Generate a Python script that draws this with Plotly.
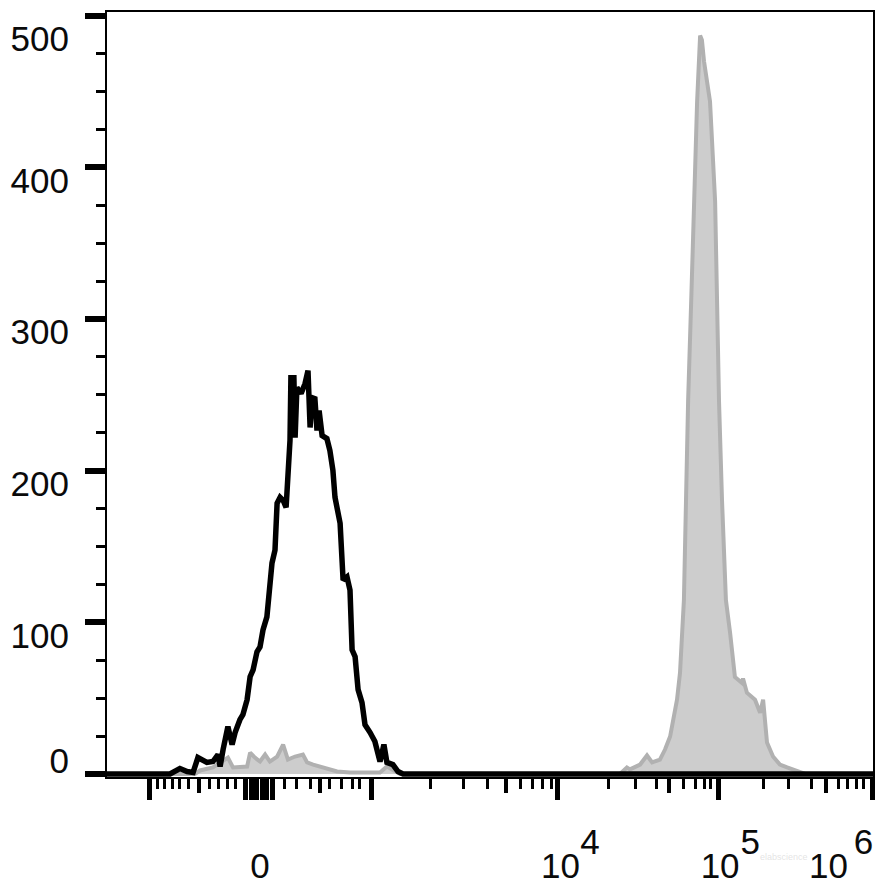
import plotly.graph_objects as go

# ---- data (x = display channel on a 256-bin biexponential scale, y = events) ----
black_ch = [0, 21, 24.3, 26.7, 28.7, 30.3, 33.3, 35.3, 37, 37.7, 38.7, 40.3, 41.7, 42.7,
            44.3, 45.3, 46.7, 47.7, 48.7, 50, 51, 52, 53.3, 53.7, 54.3, 55, 56, 56.7,
            57.7, 58.7, 59.7, 60, 60.7, 61, 61.3, 62.3, 62.7, 63.3, 64.7, 66, 67, 67.7,
            68.3, 69.3, 70, 70.7, 71.7, 73.3, 74.3, 75.3, 76, 77.7, 78.7, 80, 81, 81.7,
            82.7, 83.7, 85, 86, 87.7, 89.3, 91, 92.3, 93.3, 95.3, 97, 98.7, 255.33]
black_count = [0, 0, 3.6, 1.6, 1, 10.8, 7.6, 8.2, 12.8, 4.9, 16.1, 31.2, 19.4, 27.3,
               35.8, 39.1, 49, 64.1, 68.7, 80.6, 83.8, 95, 103.6, 112.8, 129.9, 139.1, 147.6, 178.6,
               182.4, 180.5, 175.8, 187, 200.2, 219.9, 261.3, 261.3, 221.8, 254.8, 250.9, 257.4, 266, 228.5,
               248.2, 247.5, 226.5, 239.6, 223.2, 221.2, 213.3, 200.2, 182.4, 165.3, 127.8, 129.9, 121.3, 81.9,
               77.3, 55.6, 47, 32.5, 27.3, 21.4, 8.2, 19.4, 7.6, 6.2, 1.6, 0, 0]

gray_ch = [0, 29.3, 31, 35.3, 40.3, 42, 46.7, 47.7, 49.3, 51, 52.7, 54.3, 56.7, 58.7,
           60.3, 62.7, 65.3, 66.7, 68.7, 71, 73.3, 76.7, 81, 91, 93.3, 97.7,
           171, 173.3, 174.3, 177.7, 180, 181.7, 184.3, 186, 187.7, 188.7, 190, 191,
           191.7, 192.3, 193, 193.7, 194.8, 195.7, 196.7, 197.7, 198.3, 199, 201,
           202.7, 203.3, 204, 205, 206.3, 207.7, 209.3, 211.7, 212, 213.3, 215, 216,
           217.7, 218.7, 219.3, 220, 222, 224.3, 226.7, 228.7, 231, 232.7, 255.33]
gray_count = [0, 0, 2.3, 4.3, 10.8, 4.3, 4.9, 14, 10.8, 8.2, 12.8, 8.2, 11.5, 19.4,
              9.5, 11.5, 12.8, 7.6, 6.2, 4.9, 3, 1.6, 1, 1, 4.9, 0,
              0, 4.3, 3, 6.2, 12.2, 7.6, 9.5, 16.1, 24.7, 35.8, 49, 66.7,
              93, 114.7, 180.5, 246, 316.6, 377.8, 443.5, 487, 484, 470, 443.5,
              377.8, 316.6, 246, 180.5, 114.7, 93, 64, 60, 63, 53.6, 50.3, 49,
              40.4, 49, 35.8, 20.7, 11.5, 6.2, 4.3, 3, 1.6, 0, 0]

# ---- axis ticks ----
y_major = [0, 100, 200, 300, 400, 500]
y_labels = ["0", "100", "200", "300", "400", "500"]

x_tall_ticks = [14, 46.3, 48, 49.7, 51.7, 53.3, 55, 88.3, 150, 203.7, 255.3]
x_mid_ticks = [30.7, 71, 133, 187.3, 239.7]
x_short_ticks = [16.7, 19, 21.7, 24.3, 27.3, 34.3, 37.3, 40.3, 42.7,
                 59.3, 63.3, 67.7, 74.3, 78.3, 81.7, 84.3,
                 107.7, 118.7, 126.7, 137.7, 141.7, 145, 148.3,
                 167, 176, 183, 192, 196, 199, 201,
                 218.7, 227.3, 234.7, 243.7, 246.7, 249.7, 252.3]
x_label_ticks = [51.7, 150, 203.7, 255.3]
x_label_base = ["0", "10", "10", "10"]
x_label_exp = ["4", "5", "6"]

# ---- layout geometry (page body has an 8px margin) ----
BODY = 8
W, H = 889 - BODY, 891 - BODY
ML, MR, MT, MB = 107 - BODY, 16, 10 - BODY, 114
X_RANGE = [0, 255.33]
Y_RANGE = [-2, 502.5]
px_x = (W - ML - MR) / (X_RANGE[1] - X_RANGE[0])
px_y = (H - MT - MB) / (Y_RANGE[1] - Y_RANGE[0])

y_label_shift_px = [13, -13, -13, -13, -13, -23]
y_label_pos = [v + s / px_y for v, s in zip(y_major, y_label_shift_px)]

base_shift_px = [-2, 3.5, 2, -44.5]
exp_shift_px = [33, 32, -9.5]
x_base_pos = [v + s / px_x for v, s in zip(x_label_ticks, base_shift_px)]
x_exp_pos = [v + s / px_x for v, s in zip(x_label_ticks[1:], exp_shift_px)]

FONT = "Liberation Sans, Arial, sans-serif"
TXT = "#0a0a0a"

fig = go.Figure()
fig.add_trace(go.Scatter(x=gray_ch, y=gray_count, mode="lines", fill="tozeroy",
                         fillcolor="#cdcdcd", line=dict(color="#b1b1b1", width=4),
                         xaxis="x", yaxis="y", hoverinfo="skip", showlegend=False))
fig.add_trace(go.Scatter(x=black_ch, y=black_count, mode="lines",
                         line=dict(color="#000000", width=5.5),
                         xaxis="x", yaxis="y", hoverinfo="skip", showlegend=False))
# empty traces so that the overlay tick / label axes get drawn
for xa, ya in [("x2", "y"), ("x3", "y"), ("x4", "y"), ("x", "y2")]:
    fig.add_trace(go.Scatter(x=[None], y=[None], mode="lines", xaxis=xa, yaxis=ya,
                             hoverinfo="skip", showlegend=False))

common_x = dict(range=X_RANGE, showgrid=False, zeroline=False, fixedrange=True)
fig.update_layout(
    width=W, height=H, autosize=False,
    margin=dict(l=ML, r=MR, t=MT, b=MB, pad=0),
    paper_bgcolor="white", plot_bgcolor="rgba(0,0,0,0)",
    font=dict(family=FONT, color=TXT),
    xaxis=dict(**common_x, showline=True, linecolor="black", linewidth=1.5, mirror=True,
               ticks="outside", tickmode="array", tickvals=x_tall_ticks,
               ticklen=21, tickwidth=5, tickcolor="black", showticklabels=False,
               minor=dict(tickmode="array", tickvals=x_short_ticks, ticks="outside",
                          ticklen=10, tickwidth=3, tickcolor="black", showgrid=False)),
    xaxis2=dict(**common_x, overlaying="x", anchor="y", side="bottom", showline=False,
                ticks="outside", tickmode="array", tickvals=x_mid_ticks,
                ticklen=15, tickwidth=4, tickcolor="black", showticklabels=False),
    xaxis3=dict(**common_x, overlaying="x", anchor="y", side="bottom", showline=False,
                ticks="", tickmode="array", tickvals=x_base_pos, ticktext=x_label_base,
                tickfont=dict(size=35, family=FONT, color=TXT),
                ticklabelstandoff=65),
    xaxis4=dict(**common_x, overlaying="x", anchor="y", side="bottom", showline=False,
                ticks="", tickmode="array", tickvals=x_exp_pos, ticktext=x_label_exp,
                tickfont=dict(size=35, family=FONT, color=TXT),
                ticklabelstandoff=41),
    yaxis=dict(range=Y_RANGE, showgrid=False, zeroline=False, fixedrange=True,
               showline=True, linecolor="black", linewidth=2, mirror=True,
               ticks="outside", tickmode="array", tickvals=y_major,
               ticklen=20, tickwidth=6, tickcolor="black", showticklabels=False,
               minor=dict(dtick=25, tick0=0, ticks="outside", ticklen=9, tickwidth=3,
                          tickcolor="black", showgrid=False)),
    yaxis2=dict(range=Y_RANGE, overlaying="y", side="left", anchor="x",
                showgrid=False, zeroline=False, showline=False, fixedrange=True,
                ticks="", tickmode="array", tickvals=y_label_pos, ticktext=y_labels,
                tickfont=dict(size=35, family=FONT, color=TXT),
                ticklabelstandoff=37),
)

# faint watermark between the 10^5 and 10^6 labels
fig.add_annotation(text="elabscience", xref="paper", yref="paper",
                   x=(784 - 107) / 766, y=-0.105, xanchor="center", yanchor="middle",
                   showarrow=False,
                   font=dict(size=9, family=FONT, color="rgba(205,205,205,0.55)"))

fig.write_html("out.html")
